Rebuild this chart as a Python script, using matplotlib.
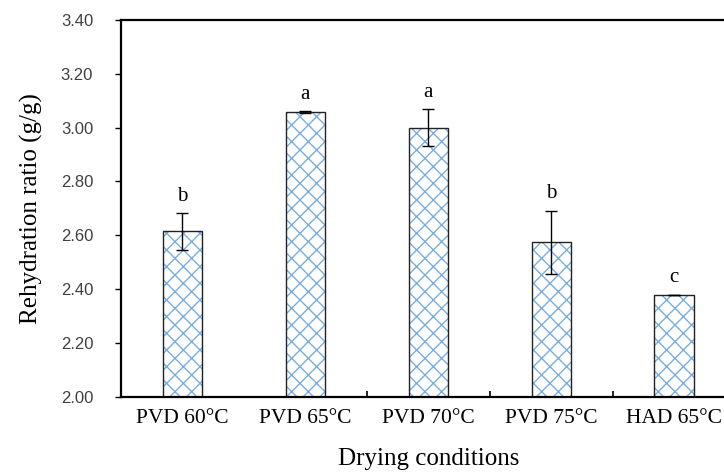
import numpy as np
import matplotlib
matplotlib.use("Agg")
import matplotlib.pyplot as plt
from matplotlib.ticker import FixedLocator

# donnees
conditions = ["PVD 60°C", "PVD 65°C", "PVD 70°C", "PVD 75°C", "HAD 65°C"]
ratio = [2.615, 3.058, 3.000, 2.575, 2.380]
erreur = [0.068, 0.004, 0.070, 0.117, 0.0]
lettres = ["b", "a", "a", "b", "c"]

plt.rcParams['hatch.linewidth'] = 1.0

fig = plt.figure(figsize=(7.24, 4.72), dpi=100)
ax = fig.add_axes([0.167, 0.159, 0.849, 0.799])

x = np.arange(len(conditions))
# remplissage hachure bleu clair puis contour sombre
ax.bar(x, ratio, width=0.32, color='white', edgecolor=(0.47, 0.68, 0.88),
       linewidth=0, hatch='xx', zorder=2)
ax.bar(x, ratio, width=0.32, color='none', edgecolor='#222222', linewidth=1.0, zorder=2)
ax.errorbar(x, ratio, yerr=erreur, fmt='none', ecolor='black', elinewidth=1.0,
            capsize=4.5, capthick=1.0, zorder=3)

for i in range(len(x)):
    ax.annotate(lettres[i], (x[i], ratio[i] + erreur[i]), xytext=(0, 12),
                textcoords='offset points', ha='center', va='center',
                fontsize=15, family='Liberation Serif')

ax.set_xlim(-0.5, len(x) - 0.5)
ax.set_ylim(2.0, 3.4)
ax.set_yticks(np.arange(2.0, 3.41, 0.2))
ax.set_yticklabels(["%.2f" % v for v in np.arange(2.0, 3.41, 0.2)],
                   family='Liberation Sans', fontsize=12, color='#404040')
ax.set_xticks(x)
ax.set_xticklabels(conditions, family='Liberation Serif', fontsize=15.5)
ax.xaxis.set_minor_locator(FixedLocator([1.5, 2.5, 3.5, 4.5]))
ax.tick_params(axis='x', which='major', length=0, pad=9)
ax.tick_params(axis='x', which='minor', direction='in', length=4, width=1.2)
ax.tick_params(axis='y', direction='out', length=4, width=1.0, pad=16)

for s in ax.spines.values():
    s.set_linewidth(1.6)
    s.set_color('black')

ax.set_xlabel("Drying conditions", family='Liberation Serif', fontsize=18, labelpad=14)
ax.set_ylabel("Rehydration ratio (g/g)", family='Liberation Serif', fontsize=18, labelpad=13)

fig.savefig("out.png", dpi=100)
